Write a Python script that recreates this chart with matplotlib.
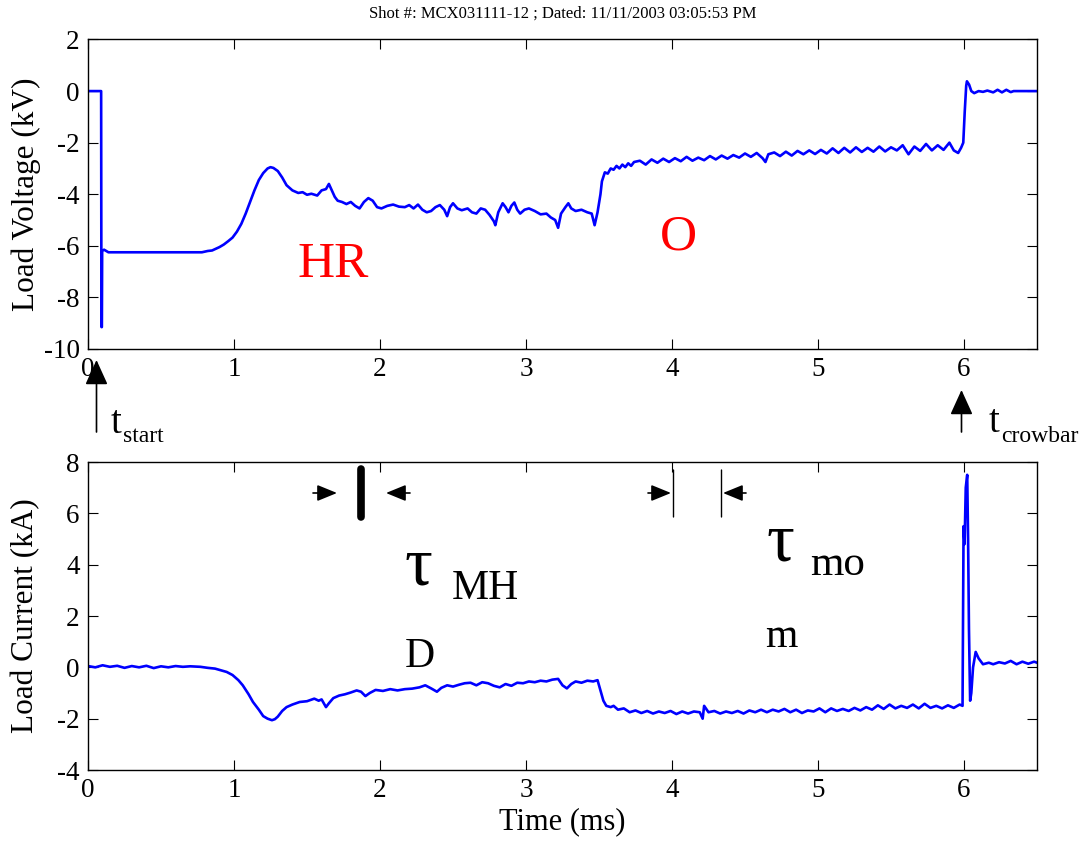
import matplotlib
matplotlib.use("Agg")
import matplotlib.pyplot as plt

plt.rcParams['font.family'] = ['Liberation Serif', 'DejaVu Serif']
plt.rcParams['axes.unicode_minus'] = False

# load voltage trace (kV) vs time (ms)
t_volt = [0.0, 0.09, 0.092, 0.095, 0.097, 0.11, 0.14, 0.78, 0.82, 0.85, 0.88, 0.9, 0.93, 0.96, 0.99,
          1.02, 1.05, 1.08, 1.11, 1.14, 1.17, 1.2, 1.23, 1.25, 1.27, 1.3, 1.33, 1.36, 1.4, 1.44,
          1.47, 1.5, 1.53, 1.57, 1.6, 1.63, 1.65, 1.67, 1.69, 1.71, 1.74, 1.77, 1.8, 1.83, 1.86,
          1.89, 1.92, 1.95, 1.98, 2.01, 2.05, 2.09, 2.13, 2.17, 2.2, 2.23, 2.26, 2.29, 2.32, 2.35,
          2.38, 2.41, 2.44, 2.46, 2.48, 2.5, 2.53, 2.56, 2.6, 2.63, 2.66, 2.69, 2.72, 2.75, 2.78,
          2.79, 2.81, 2.84, 2.86, 2.88, 2.9, 2.92, 2.94, 2.96, 2.99, 3.02, 3.06, 3.1, 3.14, 3.17,
          3.2, 3.22, 3.24, 3.27, 3.29, 3.31, 3.34, 3.38, 3.42, 3.45, 3.47, 3.49, 3.51, 3.52, 3.54,
          3.56, 3.58, 3.6, 3.62, 3.64, 3.66, 3.68, 3.7, 3.72, 3.74, 3.78, 3.82, 3.86, 3.9, 3.94,
          3.98, 4.02, 4.06, 4.1, 4.14, 4.18, 4.22, 4.26, 4.3, 4.34, 4.38, 4.42, 4.46, 4.5, 4.54,
          4.58, 4.62, 4.64, 4.66, 4.7, 4.74, 4.78, 4.82, 4.86, 4.9, 4.94, 4.98, 5.02, 5.06, 5.1,
          5.14, 5.18, 5.22, 5.26, 5.3, 5.34, 5.38, 5.42, 5.46, 5.5, 5.54, 5.58, 5.62, 5.66, 5.7,
          5.74, 5.78, 5.82, 5.86, 5.9, 5.93, 5.96, 5.98, 5.995, 6.005, 6.015, 6.02, 6.035, 6.05,
          6.07, 6.1, 6.13, 6.16, 6.2, 6.23, 6.26, 6.29, 6.32, 6.34, 6.5]
voltage = [0.0, 0.0, -9.15, -9.15, -6.2, -6.15, -6.25, -6.25, -6.2, -6.18, -6.1, -6.05, -5.95, -5.82, -5.68,
           -5.45, -5.15, -4.75, -4.3, -3.85, -3.45, -3.18, -3.0, -2.95, -2.98, -3.1, -3.35, -3.65, -3.85, -3.95,
           -3.92, -4.02, -3.98, -4.05, -3.85, -3.8, -3.6, -3.85, -4.1, -4.25, -4.3, -4.38, -4.3, -4.45, -4.55,
           -4.3, -4.15, -4.25, -4.5, -4.55, -4.45, -4.4, -4.48, -4.5, -4.42, -4.55, -4.4, -4.6, -4.7, -4.65,
           -4.5, -4.42, -4.6, -4.85, -4.5, -4.35, -4.55, -4.62, -4.55, -4.7, -4.75, -4.55, -4.6, -4.8, -5.05,
           -5.2, -4.7, -4.35, -4.5, -4.7, -4.45, -4.32, -4.6, -4.75, -4.6, -4.55, -4.65, -4.78, -4.75, -4.9,
           -5.0, -5.3, -4.75, -4.5, -4.35, -4.55, -4.65, -4.6, -4.7, -4.75, -5.2, -4.7, -4.0, -3.5, -3.15,
           -3.2, -3.0, -3.05, -2.9, -3.0, -2.85, -2.95, -2.8, -2.9, -2.75, -2.7, -2.85, -2.65, -2.78, -2.62,
           -2.75, -2.6, -2.72, -2.55, -2.7, -2.58, -2.68, -2.52, -2.65, -2.5, -2.62, -2.48, -2.58, -2.42, -2.55,
           -2.4, -2.6, -2.75, -2.45, -2.38, -2.52, -2.35, -2.5, -2.32, -2.45, -2.3, -2.44, -2.28, -2.42, -2.22,
           -2.4, -2.2, -2.38, -2.18, -2.36, -2.2, -2.35, -2.15, -2.34, -2.18, -2.3, -2.1, -2.45, -2.15, -2.32,
           -2.05, -2.3, -2.1, -2.28, -2.0, -2.3, -2.4, -2.2, -2.0, -0.8, 0.2, 0.38, 0.25, 0.0,
           -0.08, 0.0, -0.03, 0.02, -0.05, 0.05, -0.05, 0.05, -0.04, 0.0, 0.0]

# load current trace (kA) vs time (ms)
t_curr = [0.0, 0.05, 0.1, 0.15, 0.2, 0.25, 0.3, 0.35, 0.4, 0.45, 0.5, 0.55, 0.6, 0.65, 0.7,
          0.77, 0.82, 0.87, 0.9, 0.95, 0.99, 1.03, 1.06, 1.1, 1.13, 1.17, 1.2, 1.23, 1.26, 1.28,
          1.3, 1.33, 1.36, 1.4, 1.45, 1.5, 1.55, 1.58, 1.6, 1.63, 1.65, 1.68, 1.72, 1.76, 1.8,
          1.84, 1.87, 1.9, 1.93, 1.97, 2.02, 2.07, 2.12, 2.17, 2.22, 2.27, 2.31, 2.35, 2.39, 2.42,
          2.46, 2.5, 2.54, 2.58, 2.62, 2.66, 2.7, 2.74, 2.78, 2.82, 2.86, 2.9, 2.94, 2.98, 3.02,
          3.06, 3.1, 3.14, 3.18, 3.22, 3.25, 3.28, 3.31, 3.34, 3.38, 3.42, 3.46, 3.49, 3.51, 3.53,
          3.55, 3.58, 3.6, 3.63, 3.67, 3.71, 3.75, 3.79, 3.83, 3.87, 3.91, 3.95, 3.99, 4.03, 4.07,
          4.11, 4.15, 4.19, 4.21, 4.22, 4.25, 4.29, 4.33, 4.37, 4.41, 4.45, 4.49, 4.53, 4.57, 4.61,
          4.65, 4.69, 4.73, 4.77, 4.81, 4.85, 4.89, 4.93, 4.97, 5.01, 5.05, 5.09, 5.13, 5.17, 5.21,
          5.25, 5.29, 5.33, 5.37, 5.41, 5.45, 5.49, 5.53, 5.57, 5.61, 5.65, 5.69, 5.73, 5.77, 5.81,
          5.85, 5.89, 5.93, 5.97, 5.99, 5.997, 6.004, 6.012, 6.022, 6.028, 6.034, 6.042, 6.05, 6.062, 6.08,
          6.1, 6.13, 6.17, 6.2, 6.24, 6.28, 6.32, 6.36, 6.4, 6.44, 6.48, 6.5]
current = [0.05, 0.0, 0.08, 0.02, 0.06, -0.02, 0.05, 0.0, 0.06, -0.03, 0.04, 0.0, 0.05, 0.02, 0.04,
           0.02, -0.02, -0.05, -0.1, -0.18, -0.3, -0.5, -0.7, -1.05, -1.35, -1.65, -1.9, -2.0, -2.06, -2.02,
           -1.92, -1.7, -1.55, -1.45, -1.35, -1.32, -1.22, -1.3, -1.25, -1.55, -1.4, -1.2, -1.1, -1.05, -0.98,
           -0.9, -0.95, -1.12, -1.0, -0.88, -0.92, -0.85, -0.9, -0.85, -0.83, -0.78, -0.7, -0.82, -0.95, -0.8,
           -0.7, -0.75, -0.68, -0.62, -0.6, -0.7, -0.58, -0.62, -0.72, -0.78, -0.65, -0.72, -0.6, -0.62, -0.55,
           -0.58, -0.52, -0.55, -0.48, -0.45, -0.7, -0.82, -0.65, -0.55, -0.6, -0.52, -0.55, -0.5, -0.9, -1.3,
           -1.5, -1.55, -1.5, -1.65, -1.6, -1.75, -1.68, -1.78, -1.7, -1.8, -1.72, -1.78, -1.7, -1.82, -1.72,
           -1.8, -1.72, -1.75, -2.0, -1.5, -1.75, -1.7, -1.8, -1.72, -1.78, -1.7, -1.8, -1.68, -1.75, -1.65,
           -1.75, -1.65, -1.72, -1.62, -1.75, -1.65, -1.78, -1.68, -1.72, -1.6, -1.75, -1.6, -1.7, -1.62, -1.7,
           -1.58, -1.68, -1.55, -1.65, -1.48, -1.62, -1.45, -1.6, -1.5, -1.58, -1.45, -1.6, -1.42, -1.58, -1.5,
           -1.6, -1.48, -1.58, -1.45, -1.5, 5.5, 4.8, 7.0, 7.5, 5.0, 1.5, -1.3, -1.0, 0.0, 0.6,
           0.35, 0.12, 0.18, 0.12, 0.2, 0.15, 0.25, 0.12, 0.22, 0.14, 0.22, 0.18]

title = "Shot #: MCX031111-12 ; Dated: 11/11/2003 03:05:53 PM"
xticks = [0, 1, 2, 3, 4, 5, 6]
volt_ticks = [-10, -8, -6, -4, -2, 0, 2]
curr_ticks = [-4, -2, 0, 2, 4, 6, 8]

W, H = 1080, 842
fig = plt.figure(figsize=(W / 100, H / 100), dpi=100)

ax1 = fig.add_axes([88 / W, 1 - 349 / H, 949 / W, 309.5 / H])
ax2 = fig.add_axes([88 / W, 1 - 770 / H, 949 / W, 308 / H])

for ax in (ax1, ax2):
    ax.set_xlim(0, 6.5)
    ax.set_xticks(xticks)
    ax.tick_params(direction='in', top=True, right=True, length=7, width=0.8,
                   labelsize=19.5, pad=6)
    for s in ax.spines.values():
        s.set_linewidth(1.0)

ax1.plot(t_volt, voltage, color='#0000ff', lw=1.9)
ax1.set_ylim(-10, 2)
ax1.set_yticks(volt_ticks)
ax1.set_ylabel("Load Voltage (kV)", fontsize=22.5, labelpad=2)

ax2.plot(t_curr, current, color='#0000ff', lw=1.9)
ax2.set_ylim(-4, 8)
ax2.set_yticks(curr_ticks)
ax2.set_ylabel("Load Current (kA)", fontsize=22.5, labelpad=12)
ax2.set_xlabel("Time (ms)", fontsize=22, labelpad=3)

fig.text(563 / W, 1 - 14 / H, title, ha='center', va='center', fontsize=12)

# region labels
ax1.text(1.438, -7.21, "HR", color='#ff0000', fontsize=37, ha='left', va='baseline')
ax1.text(3.918, -6.16, "O", color='#ff0000', fontsize=37, ha='left', va='baseline')

ax2.text(2.171, 3.21, "\u03c4", fontsize=50, ha='left', va='baseline')
ax2.text(2.493, 2.66, "MH", fontsize=30, ha='left', va='baseline')
ax2.text(2.171, 0.01, "D", fontsize=30, ha='left', va='baseline')
ax2.text(4.65, 4.18, "\u03c4", fontsize=50, ha='left', va='baseline')
ax2.text(4.945, 3.6, "mo", fontsize=31, ha='left', va='baseline')
ax2.text(4.637, 0.79, "m", fontsize=30, ha='left', va='baseline')


def px(x, y):
    return (x, H - y)


big_head = dict(arrowstyle='-|>,head_length=1.1,head_width=0.5', mutation_scale=14,
                lw=1.2, color='k', shrinkA=0, shrinkB=0)
small_head = dict(arrowstyle='-|>,head_length=1.1,head_width=0.45', mutation_scale=11,
                  lw=1.2, color='k', shrinkA=0, shrinkB=0)
plain = dict(arrowstyle='-', color='k', shrinkA=0, shrinkB=0)

# t_start / t_crowbar markers
fig.add_artist(plt.Annotation('', xy=px(96.5, 360), xytext=px(96.5, 432),
                              xycoords='figure pixels', arrowprops=big_head))
fig.text(111 / W, 1 - 433 / H, "t", fontsize=28, ha='left', va='baseline')
fig.text(123 / W, 1 - 442 / H, "start", fontsize=17, ha='left', va='baseline')

fig.add_artist(plt.Annotation('', xy=px(961.5, 390), xytext=px(961.5, 432),
                              xycoords='figure pixels', arrowprops=big_head))
fig.text(989 / W, 1 - 432 / H, "t", fontsize=28, ha='left', va='baseline')
fig.text(1001 / W, 1 - 442 / H, "crowbar", fontsize=17, ha='left', va='baseline')

# width markers in current panel
fig.add_artist(plt.Annotation('', xy=px(337, 493), xytext=px(313, 493),
                              xycoords='figure pixels', arrowprops=small_head))
fig.add_artist(plt.Annotation('', xy=px(386, 493), xytext=px(410, 493),
                              xycoords='figure pixels', arrowprops=small_head))
fig.add_artist(plt.Annotation('', xy=px(361, 469), xytext=px(361, 517),
                              xycoords='figure pixels', arrowprops=dict(plain, lw=5.5)))
fig.add_artist(plt.Annotation('', xy=px(671, 493), xytext=px(648, 493),
                              xycoords='figure pixels', arrowprops=small_head))
fig.add_artist(plt.Annotation('', xy=px(723, 493), xytext=px(746, 493),
                              xycoords='figure pixels', arrowprops=small_head))
for xl in (673.5, 721.5):
    fig.add_artist(plt.Annotation('', xy=px(xl, 470), xytext=px(xl, 517),
                                  xycoords='figure pixels', arrowprops=dict(plain, lw=1.0)))

fig.savefig("out.png", dpi=100)
